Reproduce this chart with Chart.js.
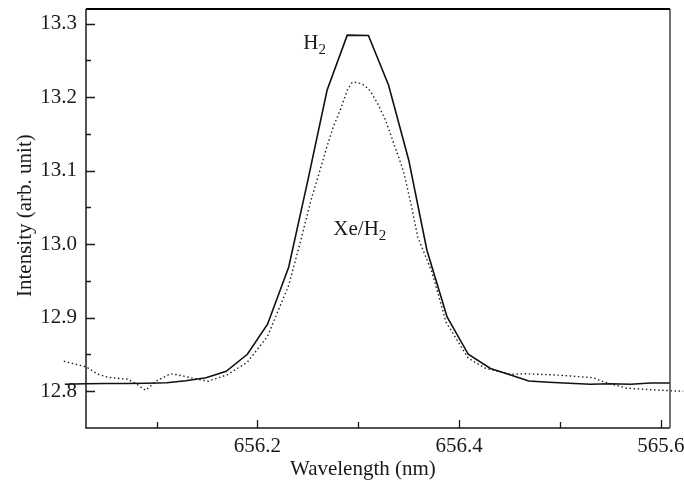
<!DOCTYPE html>
<html>
<head>
<meta charset="utf-8">
<script src="https://cdn.jsdelivr.net/npm/chart.js@4.4.1/dist/chart.umd.min.js"></script>
<style>
  body { margin: 0; background: #fff; }
  #wrap { width: 684px; height: 481px; position: relative; }
</style>
</head>
<body>
<div id="wrap"><canvas id="myChart"></canvas></div>
<script>
// H2 spectrum (solid)
const wavelengthH2 = [656.009, 656.029, 656.050, 656.069, 656.090, 656.110, 656.129, 656.149, 656.169, 656.190,
    656.210, 656.231, 656.250, 656.269, 656.289, 656.310, 656.330, 656.350, 656.368, 656.388,
    656.409, 656.431, 656.451, 656.469, 656.489, 656.509, 656.530, 656.550, 656.570, 656.590, 656.609];
const intensityH2 = [12.8095, 12.8102, 12.8105, 12.8106, 12.8109, 12.8116, 12.8143, 12.8184, 12.8272, 12.8503,
    12.8912, 12.9691, 13.0871, 13.2095, 13.2844, 13.2840, 13.2163, 13.1143, 12.9918, 12.9011,
    12.8503, 12.8309, 12.8222, 12.8140, 12.8122, 12.8109, 12.8095, 12.8102, 12.8095, 12.8113, 12.8113];

// Xe/H2 spectrum (dotted)
const wavelengthXe = [656.008, 656.030, 656.042, 656.052, 656.071, 656.079, 656.089, 656.101, 656.114, 656.125,
    656.136, 656.151, 656.170, 656.190, 656.210, 656.231, 656.243, 656.253, 656.262, 656.269,
    656.275, 656.282, 656.289, 656.294, 656.300, 656.306, 656.312, 656.319, 656.327, 656.334,
    656.340, 656.345, 656.352, 656.359, 656.373, 656.387, 656.409, 656.426, 656.451, 656.467,
    656.500, 656.533, 656.543, 656.566, 656.599, 656.622];
const intensityXe = [12.8408, 12.8333, 12.8231, 12.8190, 12.8163, 12.8109, 12.8014, 12.8150, 12.8238, 12.8211,
    12.8177, 12.8136, 12.8224, 12.8395, 12.8748, 12.9442, 13.0054, 13.0599, 13.1007, 13.1333,
    13.1592, 13.1823, 13.2095, 13.2204, 13.2197, 13.2163, 13.2082, 13.1918, 13.1687, 13.1415,
    13.1184, 13.0980, 13.0558, 13.0095, 12.9619, 12.8939, 12.8449, 12.8313, 12.8231, 12.8238,
    12.8218, 12.8184, 12.8129, 12.8041, 12.8014, 12.8000];

// axes
const xRange = [656.03, 656.609];
const yRange = [12.75, 13.32];
const xTickValues = [656.2, 656.4, 656.6];
const xTickLabels = ['656.2', '656.4', '565.6'];
const xMinorTicks = [656.1, 656.3, 656.5];
const yTickValues = [12.8, 12.9, 13.0, 13.1, 13.2, 13.3];
const yTickLabels = ['12.8', '12.9', '13.0', '13.1', '13.2', '13.3'];
const yMinorTicks = [12.85, 12.95, 13.05, 13.15, 13.25];

// curve labels, in data units
const curveLabels = [
    { text: 'H', sub: '2', x: 656.2455, y: 13.2653 },
    { text: 'Xe/H', sub: '2', x: 656.2752, y: 13.0122 }
];

const serif = '"Liberation Serif", "DejaVu Serif", serif';
const ink = '#1a1a1a';

function toPoints(xs, ys) {
    return xs.map((x, i) => ({ x: x, y: ys[i] }));
}

// frame, inward ticks, axis titles and curve labels
const framePlugin = {
    id: 'frame',
    afterDraw(chart) {
        const ctx = chart.ctx;
        const a = chart.chartArea;
        const xs = chart.scales.x;
        const ys = chart.scales.y;
        ctx.save();
        ctx.strokeStyle = ink;

        ctx.lineWidth = 1.5;
        ctx.beginPath();
        ctx.moveTo(a.left, a.top);
        ctx.lineTo(a.left, a.bottom);
        ctx.lineTo(a.right, a.bottom);
        ctx.stroke();
        ctx.strokeStyle = '#444';
        ctx.beginPath();
        ctx.moveTo(a.right, a.top);
        ctx.lineTo(a.right, a.bottom);
        ctx.stroke();
        ctx.strokeStyle = '#000';
        ctx.lineWidth = 2.2;
        ctx.beginPath();
        ctx.moveTo(a.left, a.top);
        ctx.lineTo(a.right, a.top);
        ctx.stroke();

        ctx.strokeStyle = ink;
        ctx.lineWidth = 1.3;
        ctx.beginPath();
        yTickValues.forEach(v => {
            const p = Math.round(ys.getPixelForValue(v)) + 0.5;
            ctx.moveTo(a.left, p); ctx.lineTo(a.left + 9, p);
        });
        yMinorTicks.forEach(v => {
            const p = Math.round(ys.getPixelForValue(v)) + 0.5;
            ctx.moveTo(a.left, p); ctx.lineTo(a.left + 5, p);
        });
        xTickValues.forEach(v => {
            const p = Math.round(xs.getPixelForValue(v)) + 0.5;
            ctx.moveTo(p, a.bottom); ctx.lineTo(p, a.bottom - 8);
        });
        xMinorTicks.forEach(v => {
            const p = Math.round(xs.getPixelForValue(v)) + 0.5;
            ctx.moveTo(p, a.bottom); ctx.lineTo(p, a.bottom - 6);
        });
        ctx.stroke();

        ctx.fillStyle = ink;
        ctx.font = '21px ' + serif;
        ctx.textBaseline = 'alphabetic';
        ctx.textAlign = 'left';
        ctx.fillText('Wavelength (nm)', 290, 475);

        ctx.save();
        ctx.translate(31, 297);
        ctx.rotate(-Math.PI / 2);
        ctx.fillText('Intensity (arb. unit)', 0, 0);
        ctx.restore();

        curveLabels.forEach(l => {
            const px = xs.getPixelForValue(l.x);
            const py = ys.getPixelForValue(l.y);
            ctx.font = '21px ' + serif;
            ctx.fillText(l.text, px, py);
            const w = ctx.measureText(l.text).width;
            ctx.font = '15px ' + serif;
            ctx.fillText(l.sub, px + w, py + 5);
        });
        ctx.restore();
    }
};

const ctx = document.getElementById('myChart').getContext('2d');
const myChart = new Chart(ctx, {
    type: 'line',
    data: {
        datasets: [{
                label: 'H2',
                data: toPoints(wavelengthH2, intensityH2),
                borderColor: '#111',
                borderWidth: 1.6,
                pointRadius: 0,
                tension: 0,
                clip: false
            },
            {
                label: 'Xe/H2',
                data: toPoints(wavelengthXe, intensityXe),
                borderColor: '#222',
                borderWidth: 1.4,
                borderDash: [1.5, 2.6],
                pointRadius: 0,
                tension: 0,
                clip: false
            }
        ]
    },
    options: {
        responsive: true,
        maintainAspectRatio: false,
        animation: false,
        layout: { padding: { left: 0, right: 14, top: 9, bottom: 0 } },
        plugins: {
            legend: { display: false },
            tooltip: { enabled: false }
        },
        scales: {
            x: {
                type: 'linear',
                bounds: 'data',
                grid: { display: false, drawTicks: false },
                border: { display: false },
                // range set here (not min/max) so points beyond the frame are still drawn
                afterDataLimits: (s) => { s.min = xRange[0]; s.max = xRange[1]; },
                afterBuildTicks: (s) => { s.ticks = xTickValues.map(v => ({ value: v })); },
                afterFit: (s) => { s.height = 53; s.paddingLeft = 0; s.paddingRight = 0; },
                ticks: {
                    autoSkip: false,
                    maxRotation: 0,
                    padding: 6,
                    color: ink,
                    font: { family: serif, size: 21 },
                    callback: (v) => xTickLabels[xTickValues.indexOf(v)]
                }
            },
            y: {
                type: 'linear',
                bounds: 'data',
                grid: { display: false, drawTicks: false },
                border: { display: false },
                afterDataLimits: (s) => { s.min = yRange[0]; s.max = yRange[1]; },
                afterBuildTicks: (s) => { s.ticks = yTickValues.map(v => ({ value: v })); },
                afterFit: (s) => { s.width = 86; s.paddingTop = 0; s.paddingBottom = 0; },
                ticks: {
                    autoSkip: false,
                    padding: 9,
                    color: ink,
                    font: { family: serif, size: 21 },
                    callback: (v) => yTickLabels[yTickValues.indexOf(v)]
                }
            }
        }
    },
    plugins: [framePlugin]
});
</script>
</body>
</html>
